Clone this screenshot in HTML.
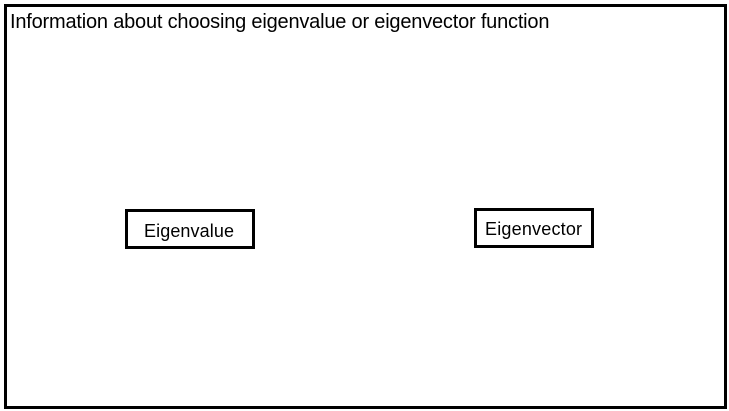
<!DOCTYPE html>
<html><head><style>
body{margin:0;width:729px;height:411px;background:#fff;position:relative;overflow:hidden;font-family:"Liberation Sans",sans-serif;}
.b{position:absolute;border:3px solid #000;box-sizing:border-box;}
.t{position:absolute;white-space:nowrap;color:#000;}
</style></head><body>
<div class="b" style="left:4px;top:4px;width:723px;height:405px;"></div>
<div class="t" style="left:10px;top:11px;font-size:20px;letter-spacing:-0.2px;">Information about choosing eigenvalue or eigenvector function</div>
<div class="b" style="left:125px;top:209px;width:130px;height:40px;"></div>
<div class="t" style="left:144px;top:221px;font-size:18px;letter-spacing:0.1px;">Eigenvalue</div>
<div class="b" style="left:474px;top:208px;width:120px;height:40px;"></div>
<div class="t" style="left:485px;top:219px;font-size:18px;letter-spacing:0.2px;">Eigenvector</div>
</body></html>
